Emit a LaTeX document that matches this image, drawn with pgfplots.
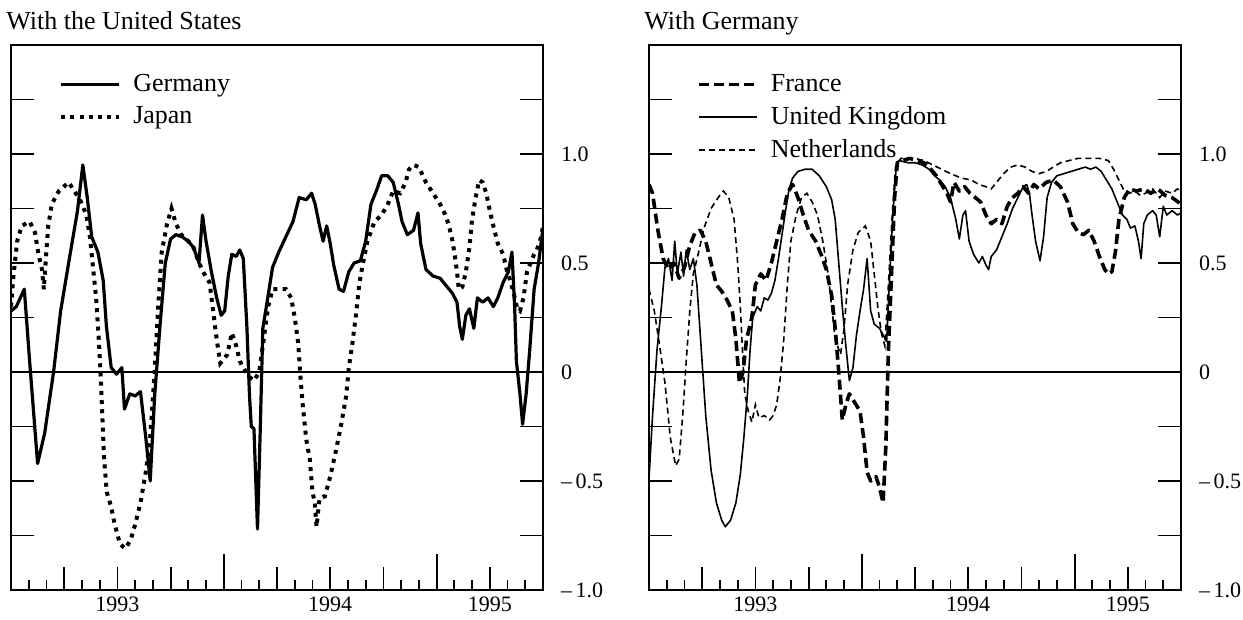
\documentclass[border=0pt]{standalone}
\usepackage{fontspec}
\setmainfont{Liberation Serif}
\usepackage{pgfplots}
\pgfplotsset{compat=1.18}
\pgfplotsset{
  panel/.style={
    scale only axis, width=266pt, height=272.5pt,
    anchor=south west,
    xmin=0, xmax=30, ymin=-1, ymax=1.5,
    axis line style={line width=1.1pt},
    tick align=inside,
    xtick pos=left,
    ytick pos=both,
    yticklabel pos=right,
    tick style={black, line width=0.9pt},
    xtick={3,6,9,15,18,21,27},
    xticklabels={,1993,,,1994,,1995},
    minor xtick={1,2,4,5,7,8,10,11,13,14,16,17,19,20,22,23,25,26,28,29},
    extra x ticks={12,24},
    extra x tick labels={},
    extra x tick style={major tick length=18pt},
    ytick={-1,-0.75,-0.5,-0.25,0,0.25,0.5,0.75,1,1.25},
    yticklabels={{\textendash\,1.0},,{\textendash\,0.5},,0,,0.5,,1.0,},
    major tick length=11.5pt,
    minor tick length=5pt,
    ticklabel style={font=\fontsize{11}{13}\selectfont},
    yticklabel style={xshift=5.5pt},
    legend cell align=left,
    legend image code/.code={\draw[##1] (0pt,0pt) -- (29pt,0pt);},
    legend style={draw=none, fill=none, at={(rel axis cs:0.09,0.952)}, anchor=north west,
      font=\fontsize{13}{15}\selectfont, inner sep=0pt, row sep=3pt,
      nodes={inner sep=1.5pt},
      /tikz/every odd column/.append style={column sep=4.5pt}},
  },
  zero/.style={black, line width=0.8pt, forget plot},
  germany/.style={black, line width=1.6pt, line join=round},
  japan/.style={black, line width=2pt, dash pattern=on 2pt off 2.6pt},
  france/.style={black, line width=1.8pt, dash pattern=on 5pt off 2.5pt, line join=round},
  uk/.style={black, line width=0.8pt, line join=round},
  neth/.style={black, line width=0.8pt, dash pattern=on 3pt off 2pt},
}
\begin{document}
\begin{tikzpicture}[x=1pt,y=1pt]
\useasboundingbox (0,0) rectangle (621.5,310);
\node[anchor=base west, font=\fontsize{13}{15}\selectfont, inner sep=0pt] at (3,295) {With the United States};
\node[anchor=base west, font=\fontsize{13}{15}\selectfont, inner sep=0pt] at (322,295) {With Germany};

\begin{axis}[panel, at={(5.5pt,15pt)}]
\addplot[zero] coordinates {(0,0) (30,0)};
\addplot[germany] coordinates {
(0,0.28) (0.3,0.3) (0.75,0.38) (1.05,0.05) (1.5,-0.42) (1.9,-0.28) (2.4,0.0) (2.8,0.28) (3.25,0.5) (3.75,0.74) (4.05,0.95) (4.3,0.8) (4.55,0.62) (4.9,0.55) (5.2,0.42) (5.38,0.21) (5.65,0.02) (5.95,-0.01) (6.25,0.02) (6.4,-0.17) (6.7,-0.1) (7.0,-0.11) (7.3,-0.09) (7.6,-0.3) (7.85,-0.5) (8.1,-0.11) (8.4,0.21) (8.7,0.5) (9.0,0.61) (9.3,0.63) (9.65,0.62) (10.0,0.6) (10.3,0.57) (10.6,0.5) (10.8,0.72) (11.0,0.6) (11.3,0.46) (11.6,0.34) (11.85,0.26) (12.05,0.28) (12.25,0.44) (12.45,0.54) (12.7,0.53) (12.9,0.56) (13.1,0.52) (13.3,0.21) (13.45,-0.11) (13.55,-0.25) (13.7,-0.26) (13.9,-0.72) (14.05,-0.28) (14.2,0.2) (14.4,0.3) (14.75,0.48) (15.1,0.55) (15.5,0.62) (15.9,0.69) (16.25,0.8) (16.65,0.79) (16.95,0.82) (17.15,0.77) (17.4,0.67) (17.6,0.6) (17.8,0.67) (18.0,0.59) (18.2,0.49) (18.5,0.38) (18.75,0.37) (19.05,0.46) (19.35,0.5) (19.7,0.51) (20.0,0.6) (20.3,0.77) (20.6,0.83) (20.9,0.9) (21.25,0.9) (21.55,0.87) (21.85,0.77) (22.05,0.69) (22.35,0.63) (22.7,0.65) (22.95,0.73) (23.1,0.59) (23.4,0.47) (23.8,0.44) (24.2,0.43) (24.6,0.39) (24.9,0.36) (25.15,0.32) (25.3,0.21) (25.45,0.15) (25.65,0.26) (25.85,0.29) (26.1,0.2) (26.3,0.34) (26.6,0.32) (26.9,0.34) (27.2,0.3) (27.45,0.34) (27.75,0.41) (28.05,0.46) (28.25,0.55) (28.4,0.3) (28.5,0.05) (28.7,-0.1) (28.85,-0.24) (29.05,-0.1) (29.25,0.1) (29.5,0.38) (29.75,0.5) (30,0.66)
};
\addlegendentry{Germany}
\addplot[japan] coordinates {
(0,0.3) (0.15,0.45) (0.35,0.6) (0.6,0.67) (1.05,0.69) (1.35,0.64) (1.55,0.54) (1.75,0.47) (1.85,0.38) (2.0,0.56) (2.1,0.67) (2.3,0.77) (2.7,0.83) (3.25,0.87) (3.65,0.82) (3.95,0.78) (4.25,0.72) (4.45,0.62) (4.6,0.5) (4.8,0.34) (4.95,0.15) (5.05,0.0) (5.15,-0.2) (5.25,-0.4) (5.4,-0.55) (5.65,-0.62) (5.85,-0.7) (6.15,-0.79) (6.45,-0.81) (6.75,-0.77) (7.0,-0.7) (7.3,-0.6) (7.6,-0.46) (7.85,-0.3) (8.1,0.0) (8.3,0.3) (8.5,0.55) (8.8,0.68) (9.05,0.75) (9.3,0.68) (9.6,0.63) (10.0,0.6) (10.3,0.57) (10.6,0.5) (10.9,0.45) (11.2,0.41) (11.4,0.28) (11.6,0.15) (11.8,0.04) (12.0,0.06) (12.2,0.08) (12.45,0.18) (12.7,0.12) (12.9,0.05) (13.1,0.02) (13.4,-0.02) (13.7,-0.04) (14.0,0.0) (14.25,0.15) (14.5,0.3) (14.75,0.38) (15.1,0.38) (15.5,0.38) (15.8,0.34) (16.0,0.25) (16.2,0.13) (16.3,0.0) (16.45,-0.15) (16.65,-0.31) (16.85,-0.4) (17.0,-0.55) (17.13,-0.6) (17.23,-0.71) (17.4,-0.58) (17.7,-0.57) (18.0,-0.48) (18.3,-0.37) (18.6,-0.25) (18.9,-0.11) (19.05,0.02) (19.25,0.13) (19.45,0.26) (19.65,0.41) (19.85,0.5) (20.1,0.6) (20.5,0.69) (20.9,0.72) (21.25,0.77) (21.55,0.83) (21.95,0.82) (22.25,0.87) (22.45,0.93) (22.7,0.95) (23.0,0.94) (23.4,0.87) (23.8,0.82) (24.2,0.77) (24.5,0.72) (24.7,0.67) (24.9,0.6) (25.05,0.52) (25.15,0.46) (25.25,0.38) (25.45,0.39) (25.65,0.46) (25.85,0.57) (26.0,0.7) (26.2,0.8) (26.4,0.88) (26.6,0.87) (26.8,0.82) (27.0,0.74) (27.2,0.67) (27.45,0.59) (27.75,0.54) (27.95,0.47) (28.15,0.42) (28.35,0.36) (28.55,0.29) (28.7,0.28) (28.9,0.34) (29.1,0.46) (29.3,0.5) (29.5,0.54) (29.7,0.57) (29.9,0.62) (30,0.67)
};
\addlegendentry{Japan}
\end{axis}

\begin{axis}[panel, at={(324.5pt,15pt)}]
\addplot[zero] coordinates {(0,0) (30,0)};
\addplot[france] coordinates {
(0,0.86) (0.2,0.82) (0.5,0.65) (0.8,0.52) (1.1,0.47) (1.4,0.5) (1.7,0.43) (2.0,0.48) (2.3,0.58) (2.6,0.64) (2.9,0.65) (3.2,0.6) (3.5,0.5) (3.8,0.4) (4.1,0.37) (4.4,0.33) (4.7,0.28) (4.9,0.15) (5.1,-0.05) (5.3,0.0) (5.5,0.15) (5.8,0.25) (6.0,0.4) (6.3,0.45) (6.6,0.42) (6.9,0.5) (7.2,0.6) (7.5,0.7) (7.8,0.82) (8.1,0.86) (8.4,0.8) (8.7,0.72) (9.0,0.65) (9.4,0.6) (9.7,0.54) (10.0,0.47) (10.3,0.35) (10.5,0.2) (10.7,0.0) (10.9,-0.22) (11.1,-0.15) (11.3,-0.1) (11.6,-0.14) (11.9,-0.18) (12.1,-0.3) (12.3,-0.46) (12.5,-0.5) (12.8,-0.48) (13.0,-0.53) (13.2,-0.6) (13.35,-0.35) (13.5,0.1) (13.7,0.5) (13.85,0.8) (14.0,0.96) (14.3,0.97) (14.7,0.98) (15.1,0.97) (15.5,0.96) (15.9,0.93) (16.2,0.9) (16.5,0.86) (16.8,0.82) (17.0,0.78) (17.2,0.87) (17.5,0.83) (17.8,0.85) (18.1,0.82) (18.4,0.8) (18.7,0.78) (19.0,0.72) (19.3,0.68) (19.6,0.7) (19.9,0.68) (20.2,0.76) (20.5,0.8) (20.8,0.82) (21.1,0.85) (21.4,0.82) (21.7,0.86) (22.0,0.84) (22.4,0.87) (22.8,0.88) (23.2,0.85) (23.6,0.78) (23.9,0.68) (24.2,0.64) (24.5,0.63) (24.8,0.65) (25.1,0.6) (25.4,0.53) (25.7,0.47) (25.9,0.45) (26.1,0.46) (26.3,0.55) (26.5,0.7) (26.8,0.8) (27.1,0.84) (27.5,0.83) (27.9,0.84) (28.3,0.82) (28.7,0.84) (29.1,0.81) (29.5,0.8) (30,0.77)
};
\addlegendentry{France}
\addplot[uk] coordinates {
(0,-0.49) (0.2,-0.2) (0.45,0.1) (0.7,0.3) (0.9,0.48) (1.1,0.52) (1.3,0.42) (1.45,0.6) (1.6,0.45) (1.8,0.55) (1.95,0.44) (2.1,0.56) (2.3,0.47) (2.5,0.52) (2.7,0.4) (2.95,0.1) (3.2,-0.2) (3.5,-0.45) (3.8,-0.6) (4.1,-0.68) (4.3,-0.71) (4.6,-0.68) (4.9,-0.6) (5.15,-0.47) (5.35,-0.3) (5.55,-0.1) (5.7,0.1) (5.85,0.25) (6.1,0.3) (6.3,0.28) (6.5,0.34) (6.7,0.33) (6.9,0.36) (7.1,0.42) (7.3,0.52) (7.5,0.63) (7.7,0.74) (7.9,0.84) (8.1,0.89) (8.4,0.92) (8.8,0.93) (9.2,0.93) (9.6,0.9) (10.0,0.85) (10.3,0.79) (10.5,0.7) (10.7,0.5) (10.9,0.3) (11.1,0.12) (11.3,-0.04) (11.5,0.02) (11.7,0.17) (11.9,0.28) (12.1,0.38) (12.3,0.52) (12.5,0.28) (12.7,0.22) (13.0,0.2) (13.2,0.17) (13.4,0.14) (13.55,0.4) (13.75,0.72) (13.95,0.95) (14.1,0.97) (14.6,0.96) (15.0,0.96) (15.4,0.95) (15.8,0.93) (16.1,0.9) (16.4,0.88) (16.7,0.85) (17.0,0.8) (17.3,0.7) (17.5,0.61) (17.7,0.72) (17.85,0.74) (18.05,0.6) (18.3,0.54) (18.6,0.5) (18.8,0.53) (19.0,0.49) (19.15,0.47) (19.3,0.53) (19.6,0.56) (19.9,0.62) (20.2,0.68) (20.5,0.75) (20.8,0.8) (21.1,0.85) (21.3,0.86) (21.45,0.82) (21.6,0.72) (21.8,0.6) (22.05,0.51) (22.25,0.62) (22.45,0.8) (22.7,0.87) (23.0,0.9) (23.4,0.91) (23.8,0.92) (24.2,0.93) (24.6,0.94) (24.9,0.93) (25.2,0.94) (25.5,0.92) (25.8,0.88) (26.1,0.84) (26.4,0.78) (26.7,0.72) (26.95,0.7) (27.15,0.66) (27.4,0.67) (27.6,0.6) (27.75,0.52) (27.9,0.68) (28.1,0.72) (28.4,0.74) (28.6,0.72) (28.8,0.62) (29.0,0.76) (29.2,0.72) (29.5,0.74) (29.8,0.72) (30,0.73)
};
\addlegendentry{United Kingdom}
\addplot[neth] coordinates {
(0,0.38) (0.3,0.28) (0.6,0.12) (0.9,-0.05) (1.2,-0.3) (1.5,-0.43) (1.7,-0.4) (1.9,-0.2) (2.1,0.05) (2.3,0.28) (2.5,0.45) (2.8,0.55) (3.1,0.66) (3.5,0.75) (3.9,0.8) (4.2,0.83) (4.5,0.8) (4.8,0.7) (5.0,0.5) (5.15,0.3) (5.3,0.05) (5.4,-0.1) (5.6,-0.18) (5.8,-0.23) (6.0,-0.15) (6.2,-0.21) (6.5,-0.2) (6.8,-0.22) (7.0,-0.2) (7.2,-0.15) (7.4,-0.03) (7.6,0.15) (7.8,0.4) (8.0,0.6) (8.3,0.72) (8.6,0.8) (8.9,0.82) (9.2,0.78) (9.5,0.72) (9.8,0.6) (10.1,0.45) (10.3,0.3) (10.5,0.15) (10.8,0.08) (11.0,0.2) (11.2,0.4) (11.5,0.56) (11.8,0.64) (12.2,0.67) (12.5,0.6) (12.7,0.45) (12.9,0.3) (13.1,0.18) (13.3,0.12) (13.5,0.4) (13.7,0.7) (13.9,0.94) (14.2,0.98) (14.6,0.98) (15.0,0.98) (15.5,0.97) (16.0,0.95) (16.5,0.93) (17.0,0.91) (17.6,0.89) (18.2,0.88) (18.6,0.86) (19.0,0.85) (19.3,0.84) (19.6,0.87) (20.0,0.91) (20.4,0.94) (20.8,0.95) (21.2,0.94) (21.6,0.92) (22.0,0.91) (22.4,0.92) (22.8,0.94) (23.2,0.96) (23.7,0.97) (24.2,0.98) (24.8,0.98) (25.4,0.98) (25.9,0.97) (26.2,0.93) (26.5,0.88) (26.8,0.83) (27.1,0.82) (27.4,0.83) (27.7,0.81) (28.0,0.82) (28.4,0.84) (28.8,0.8) (29.1,0.83) (29.5,0.82) (29.8,0.84) (30,0.83)
};
\addlegendentry{Netherlands}
\end{axis}
\end{tikzpicture}
\end{document}
